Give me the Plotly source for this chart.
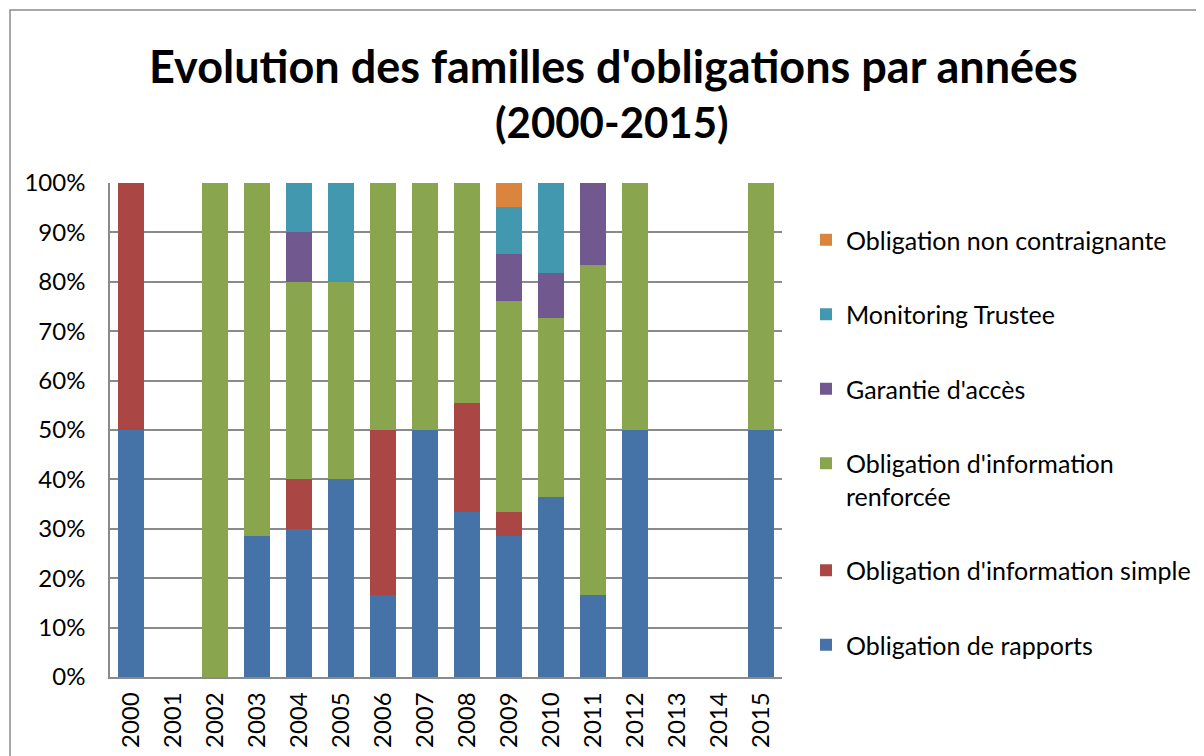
import plotly.graph_objects as go

years = [str(y) for y in range(2000, 2016)]

rapports = [50, 0, 0, 28.57, 30, 40, 16.67, 50, 33.33, 28.57, 36.36, 16.67, 50, 0, 0, 50]
info_simple = [50, 0, 0, 0, 10, 0, 33.33, 0, 22.22, 4.76, 0, 0, 0, 0, 0, 0]
info_renforcee = [0, 0, 100, 71.43, 40, 40, 50, 50, 44.45, 42.86, 36.36, 66.66, 50, 0, 0, 50]
garantie = [0, 0, 0, 0, 10, 0, 0, 0, 0, 9.52, 9.09, 16.67, 0, 0, 0, 0]
monitoring = [0, 0, 0, 0, 10, 20, 0, 0, 0, 9.53, 18.19, 0, 0, 0, 0, 0]
non_contraignante = [0, 0, 0, 0, 0, 0, 0, 0, 0, 4.76, 0, 0, 0, 0, 0, 0]

series = [
    ("Obligation de rapports", rapports, "#4572A7"),
    ("Obligation d'information simple", info_simple, "#AA4643"),
    ("Obligation d'information<br>renforcée", info_renforcee, "#89A54E"),
    ("Garantie d'accès", garantie, "#71588F"),
    ("Monitoring Trustee", monitoring, "#4198AF"),
    ("Obligation non contraignante", non_contraignante, "#DB843D"),
]

FONT = "Lato"

fig = go.Figure()
n = len(series)
for i, (name, vals, col) in enumerate(series):
    fig.add_trace(go.Bar(x=years, y=vals, name=name, marker_color=col,
                         marker_line_width=0, legendgroup=f"g{i}",
                         legendrank=n - i))

# page coordinates of plot area (page has an 8px body margin)
OFF = 8
L, R, T, B = 110, 782, 183, 677
W, H = 1204 - OFF, 756 - OFF

def px(xp):
    return (xp - L) / (R - L)

def py(yp):
    return (B - yp) / (B - T)

fig.update_layout(
    width=W, height=H,
    margin=dict(l=L - OFF, r=W - (R - OFF), t=T - OFF, b=H - (B - OFF), pad=0,
                autoexpand=False),
    barmode="stack", bargap=0.36,
    plot_bgcolor="white", paper_bgcolor="white",
    font=dict(family=FONT, size=24, color="black"),
    showlegend=True,
    legend=dict(x=px(806), y=py(217), xanchor="left", yanchor="top",
                traceorder="grouped", tracegroupgap=39,
                font=dict(size=25, family=FONT), valign="top",
                itemwidth=30, bgcolor="rgba(0,0,0,0)"),
    xaxis=dict(type="category", tickangle=-90, showgrid=False,
               showline=True, linecolor="#8a8a8a", linewidth=1.5,
               ticks="", tickfont=dict(size=24), ticklabelstandoff=4),
    yaxis=dict(range=[0, 100], dtick=10, ticksuffix="%", showgrid=True,
               gridcolor="#8a8a8a", gridwidth=1.5, showline=True,
               linecolor="#8a8a8a", linewidth=1.5, ticks="",
               tickfont=dict(size=24), zeroline=False, ticklabelstandoff=18),
)

fig.add_annotation(text="<b>Evolution des familles d'obligations par années</b>",
                   xref="paper", yref="paper", x=px(613), y=py(66),
                   showarrow=False, font=dict(size=45, family=FONT),
                   xanchor="center", yanchor="middle")
fig.add_annotation(text="<b>(2000-2015)</b>",
                   xref="paper", yref="paper", x=px(612), y=py(122),
                   showarrow=False, font=dict(size=42, family=FONT),
                   xanchor="center", yanchor="middle")

fig.add_shape(type="rect", xref="paper", yref="paper",
              x0=px(10), x1=px(1202), y0=py(800), y1=py(10),
              line=dict(color="#8a8a8a", width=1.5), layer="below")

fig.write_html("out.html")
